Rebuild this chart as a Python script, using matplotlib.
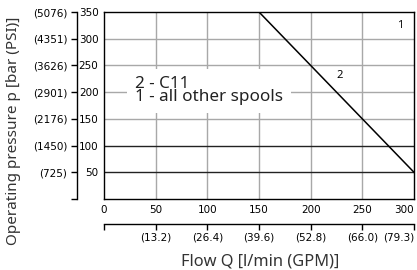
import matplotlib
matplotlib.use("Agg")
import matplotlib.pyplot as plt

# data
flow = [150, 300]
pressure = [350, 50]
bar_ticks = [0, 50, 100, 150, 200, 250, 300, 350]
psi_labels = ["", "(725)", "(1450)", "(2176)", "(2901)", "(3626)", "(4351)", "(5076)"]
lpm_ticks = [0, 50, 100, 150, 200, 250, 300]
gpm_labels = ["", "(13.2)", "(26.4)", "(39.6)", "(52.8)", "(66.0)", "(79.3)"]
grid_gray_y = [150, 200, 250, 300]
grid_black_y = [50, 100]
grid_x = [50, 100, 150, 200, 250]

narrow = ["Liberation Sans Narrow", "DejaVu Sans"]
label_font = ["Noto Sans", "DejaVu Sans"]

fig = plt.figure(figsize=(4.17, 2.70), dpi=100)
ax = fig.add_axes([104 / 417, 71 / 270, 310 / 417, 187 / 270])
ax.set_xlim(0, 300)
ax.set_ylim(0, 350)

for x in grid_x:
    ax.axvline(x, color="#a8a8a8", lw=1, zorder=1)
for y in grid_gray_y:
    ax.axhline(y, color="#a8a8a8", lw=1, zorder=1)
for y in grid_black_y:
    ax.axhline(y, color="#222222", lw=1, zorder=1)

ax.plot(flow, pressure, color="black", lw=1.1, zorder=3)

for s in ax.spines.values():
    s.set_color("black")
    s.set_linewidth(1)

# bar / l/min labels on the main axes
ax.set_yticks(bar_ticks[1:])
ax.set_yticklabels([str(v) for v in bar_ticks[1:]], family=narrow, fontsize=7.5)
ax.set_xticks(lpm_ticks)
ax.set_xticklabels([str(v) for v in lpm_ticks], family=narrow, fontsize=7.5)
ax.tick_params(length=0, pad=4)
ax.get_xticklabels()[-1].set_horizontalalignment("right")

# PSI axis on the left
sy = ax.secondary_yaxis(-27 / 310)
sy.set_yticks(bar_ticks)
sy.set_yticklabels(psi_labels, family=narrow, fontsize=7.5)
sy.tick_params(direction="out", length=4, width=1, pad=3)
sy.spines["left"].set_linewidth(1)

# GPM axis below
sx = ax.secondary_xaxis(-25 / 187)
sx.set_xticks(lpm_ticks)
sx.set_xticklabels(gpm_labels, family=narrow, fontsize=7.5)
sx.tick_params(direction="out", length=4, width=1, pad=2)
sx.spines["bottom"].set_linewidth(1)
sx.get_xticklabels()[-1].set_horizontalalignment("right")

ax.text(30, 203, "2 - C11\n1 - all other spools", fontsize=12.3, family=label_font,
        va="center", ha="left", linespacing=0.72, zorder=4, color="#222222",
        bbox=dict(facecolor="white", edgecolor="none", pad=5.5))
ax.text(228, 232, "2", fontsize=8, family=label_font, ha="center", va="center", zorder=4)
ax.text(287, 325, "1", fontsize=8, family=label_font, ha="center", va="center", zorder=4)

fig.text(260 / 417, 1 - 261 / 270, "Flow Q [l/min (GPM)]", fontsize=11.8,
         family=label_font, ha="center", va="center", color="#333333")
fig.text(14 / 417, 1 - 131 / 270, "Operating pressure p [bar (PSI)]", fontsize=11,
         family=label_font, ha="center", va="center", rotation=90, color="#333333")

fig.savefig("out.png", dpi=100)
